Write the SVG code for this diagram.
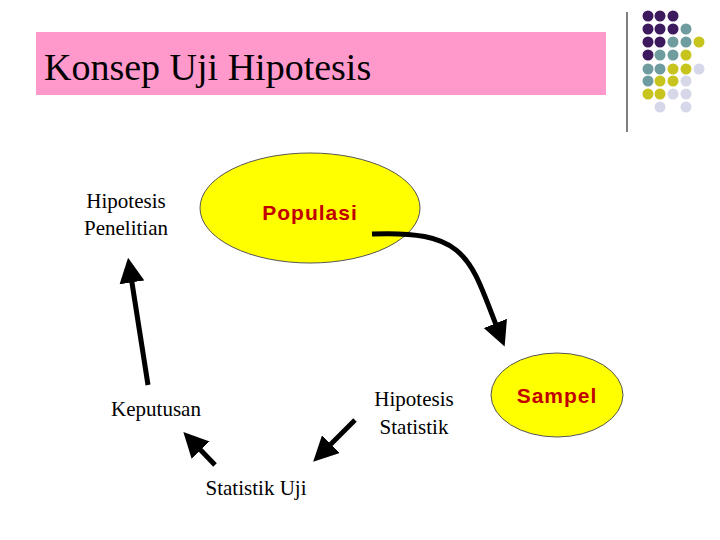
<svg xmlns="http://www.w3.org/2000/svg" width="720" height="540" viewBox="0 0 720 540">
<style>
.s{font-family:"Liberation Serif",serif;font-size:21px;fill:#000;text-anchor:middle}
.b{font-family:"Liberation Sans",sans-serif;font-size:21px;font-weight:bold;fill:#c00000;letter-spacing:1px;text-anchor:middle}
.c{stroke:#000;stroke-width:5;fill:none;marker-end:url(#ah)}
.P{fill:#3d1a5e}.T{fill:#6f9c9e}.Y{fill:#c8c41e}.L{fill:#d6d8ea}
</style>
<defs><marker id="ah" markerWidth="5" markerHeight="5" refX="2.5" refY="2.5" orient="auto"><path d="M0,0 L5,2.5 L0,5 Z" fill="#000"/></marker></defs>
<rect width="720" height="540" fill="#fff"/>
<g id="title"><rect x="36" y="32" width="570" height="63" fill="#ff99cc"/>
<text x="44" y="80" font-family="Liberation Serif,serif" font-size="38">Konsep Uji Hipotesis</text></g>
<g id="deco"><line x1="627" y1="12" x2="627" y2="132" stroke="#000" stroke-width="1"/>
<g>
<circle class="P" cx="648" cy="16" r="5.5"/><circle class="P" cx="660" cy="16" r="5.5"/><circle class="P" cx="673" cy="16" r="5.5"/>
<circle class="P" cx="648" cy="29" r="5.5"/><circle class="P" cx="660" cy="29" r="5.5"/><circle class="P" cx="673" cy="29" r="5.5"/><circle class="T" cx="686" cy="29" r="5.5"/>
<circle class="P" cx="648" cy="42" r="5.5"/><circle class="P" cx="660" cy="42" r="5.5"/><circle class="T" cx="673" cy="42" r="5.5"/><circle class="T" cx="686" cy="42" r="5.5"/><circle class="Y" cx="699" cy="42" r="5.5"/>
<circle class="P" cx="648" cy="55" r="5.5"/><circle class="T" cx="660" cy="55" r="5.5"/><circle class="T" cx="673" cy="55" r="5.5"/><circle class="Y" cx="686" cy="55" r="5.5"/>
<circle class="T" cx="648" cy="69" r="5.5"/><circle class="T" cx="660" cy="69" r="5.5"/><circle class="Y" cx="673" cy="69" r="5.5"/><circle class="Y" cx="686" cy="69" r="5.5"/><circle class="L" cx="699" cy="69" r="5.5"/>
<circle class="T" cx="648" cy="81" r="5.5"/><circle class="Y" cx="660" cy="81" r="5.5"/><circle class="Y" cx="673" cy="81" r="5.5"/><circle class="L" cx="686" cy="81" r="5.5"/>
<circle class="Y" cx="648" cy="94" r="5.5"/><circle class="Y" cx="660" cy="94" r="5.5"/><circle class="L" cx="673" cy="94" r="5.5"/><circle class="L" cx="686" cy="94" r="5.5"/>
<circle class="L" cx="660" cy="107" r="5.5"/><circle class="L" cx="686" cy="107" r="5.5"/>
</g></g>
<g id="populasi"><ellipse cx="310" cy="208" rx="110" ry="55" fill="#ffff00" stroke="#555" stroke-width="1"/><text class="b" x="310" y="220">Populasi</text></g>
<g id="sampel"><ellipse cx="557" cy="395" rx="66" ry="42" fill="#ffff00" stroke="#555" stroke-width="1"/><text class="b" x="557" y="403">Sampel</text></g>
<g id="hp"><text class="s" x="126" y="208">Hipotesis</text><text class="s" x="126" y="235">Penelitian</text></g>
<g id="hs"><text class="s" x="414" y="406">Hipotesis</text><text class="s" x="414" y="434">Statistik</text></g>
<g id="kep"><text class="s" x="156" y="416">Keputusan</text></g>
<g id="su"><text class="s" x="256" y="495">Statistik Uji</text></g>
<g id="connectors">
<path class="c" d="M372,234 C470,230 470,260 500,335"/>
<path class="c" d="M148,385 L130,270"/>
<path class="c" d="M355,420 L322,453"/>
<path class="c" d="M215,465 L192,441"/>
</g>
</svg>
